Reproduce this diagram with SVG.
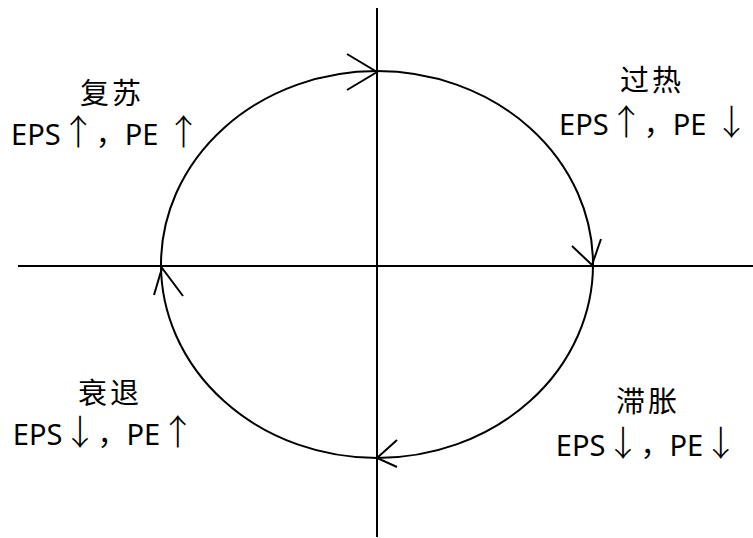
<svg xmlns="http://www.w3.org/2000/svg" width="753" height="538" viewBox="0 0 753 538">
<style>
.ln{stroke:#000;stroke-width:2;fill:none}
.cj{font-family:"Noto Sans CJK SC",sans-serif;font-size:29px;fill:#000;text-anchor:middle;letter-spacing:3px}
.en{font-family:"Noto Sans","Noto Sans CJK SC",sans-serif;font-size:29px;fill:#000;text-anchor:middle}
.ar{font-family:"Noto Sans CJK SC",sans-serif;font-size:35px;font-weight:300}
</style>
<rect width="753" height="538" fill="#fff"/>
<g id="axes">
<line class="ln" x1="18" y1="266" x2="753" y2="266"/>
<line class="ln" x1="377" y1="8" x2="377" y2="537"/>
</g>
<g id="connectors">
<ellipse class="ln" cx="377" cy="264.5" rx="216" ry="193.5"/>
<polyline class="ln" points="347,54 377,72 347,90"/>
<polyline class="ln" points="572,246 592,265 601,239"/>
<polyline class="ln" points="397,440 377,458 397,467"/>
<polyline class="ln" points="154,295 162,268 183,296"/>
</g>
<g id="recovery">
<text class="cj" x="112" y="104">复苏</text>
<text class="en" x="106" y="145">EPS<tspan class="ar">↑</tspan>，PE <tspan class="ar">↑</tspan></text>
</g>
<g id="overheat">
<text class="cj" x="652" y="91">过热</text>
<text class="en" x="654" y="135">EPS<tspan class="ar">↑</tspan>，PE <tspan class="ar">↓</tspan></text>
</g>
<g id="recession">
<text class="cj" x="110" y="404">衰退</text>
<text class="en" x="104" y="445">EPS<tspan class="ar">↓</tspan>，PE<tspan class="ar">↑</tspan></text>
</g>
<g id="stagflation">
<text class="cj" x="648" y="412">滞胀</text>
<text class="en" x="647" y="456">EPS<tspan class="ar">↓</tspan>，PE<tspan class="ar">↓</tspan></text>
</g>
</svg>
